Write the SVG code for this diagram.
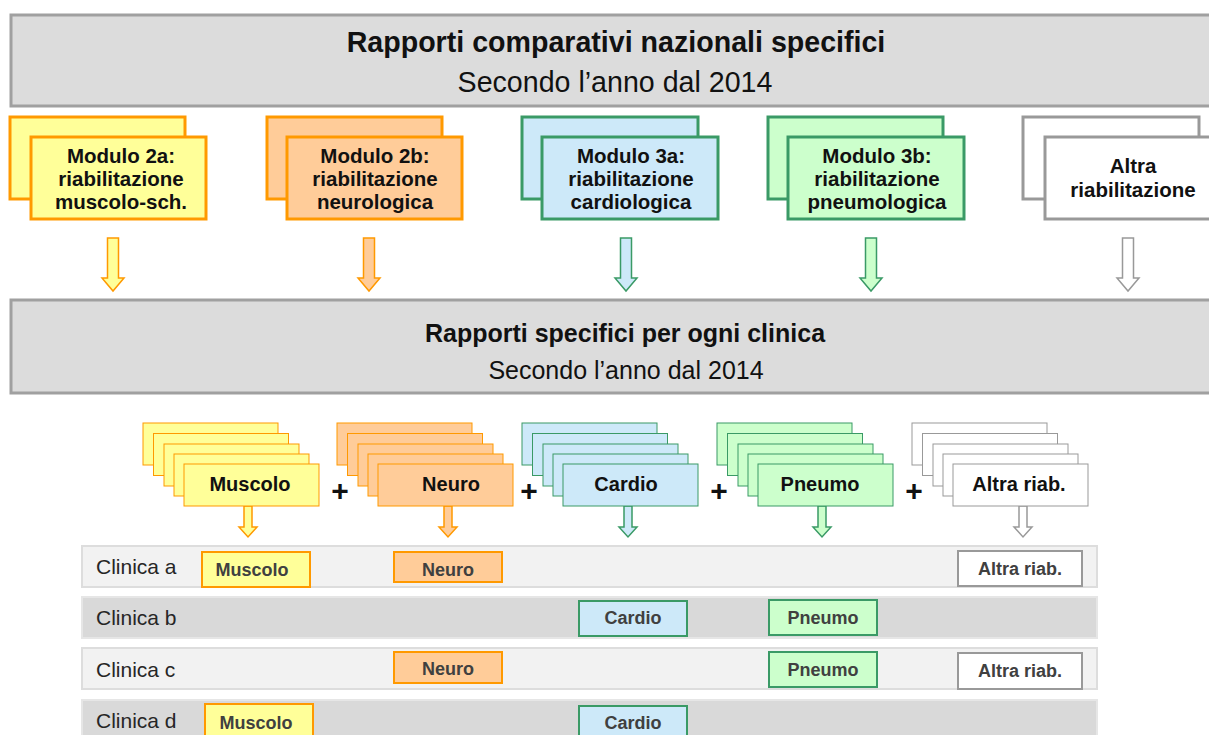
<svg xmlns="http://www.w3.org/2000/svg" width="1209" height="735" viewBox="0 0 1209 735">
<style>
text{font-family:"Liberation Sans",Arial,sans-serif;text-anchor:middle}
.banner{fill:#dcdcdc;stroke:#a0a0a0;stroke-width:3}
.bt{font-weight:bold;font-size:28.6px;fill:#111}
.bs{font-size:28.6px;fill:#111}
.bt2{font-weight:bold;font-size:25px;fill:#111}
.bs2{font-size:25px;fill:#111}
.mt{font-weight:bold;font-size:20.5px;fill:#111}
.ct{font-weight:bold;font-size:20px;fill:#111}
.yel{fill:#ffff99;stroke:#ff9900}
.pea{fill:#ffcc99;stroke:#ff9900}
.blu{fill:#cde9f9;stroke:#3a9a66}
.grn{fill:#ccffcc;stroke:#3a9a66}
.wht{fill:#ffffff;stroke:#999999}
.mod rect{stroke-width:3}
.stk rect{stroke-width:1.5}
.arr path,.arr use{stroke-width:1.5}
.plus{font-weight:bold;font-size:30px;fill:#111}
.rowL{fill:#f2f2f2;stroke:#dddddd;stroke-width:1.5}
.rowD{fill:#d9d9d9;stroke:#e6e6e6;stroke-width:1.5}
.rl{font-size:21px;fill:#262626;text-anchor:start}
.sb rect{stroke-width:2}
.st{font-weight:bold;font-size:18px;fill:#404040}
</style>
<defs>
<path id="bigArrow" d="M-5.5 238H5.5V278H11L0 291L-11 278H-5.5Z"/>
<path id="smArrow" d="M-4 506H4V527H9L0 537L-9 527H-4Z"/>
<rect id="card" width="135" height="42"/>
</defs>

<g id="banner1">
<rect class="banner" x="11" y="15" width="1215" height="91"/>
<text class="bt" x="616" y="52">Rapporti comparativi nazionali specifici</text>
<text class="bs" x="615" y="92">Secondo l’anno dal 2014</text>
</g>

<g id="mod2a" class="mod">
<rect class="yel" x="10" y="117" width="175" height="82"/>
<rect class="yel" x="31" y="137" width="175" height="82"/>
<text class="mt" x="121" y="163">Modulo 2a:</text>
<text class="mt" x="121" y="186">riabilitazione</text>
<text class="mt" x="121" y="209">muscolo-sch.</text>
</g>
<g id="mod2b" class="mod">
<rect class="pea" x="267" y="117" width="175" height="82"/>
<rect class="pea" x="287" y="137" width="175" height="82"/>
<text class="mt" x="375" y="163">Modulo 2b:</text>
<text class="mt" x="375" y="186">riabilitazione</text>
<text class="mt" x="375" y="209">neurologica</text>
</g>
<g id="mod3a" class="mod">
<rect class="blu" x="522" y="117" width="176" height="82"/>
<rect class="blu" x="542" y="137" width="176" height="82"/>
<text class="mt" x="631" y="163">Modulo 3a:</text>
<text class="mt" x="631" y="186">riabilitazione</text>
<text class="mt" x="631" y="209">cardiologica</text>
</g>
<g id="mod3b" class="mod">
<rect class="grn" x="768" y="117" width="175" height="82"/>
<rect class="grn" x="788" y="137" width="176" height="82"/>
<text class="mt" x="877" y="163">Modulo 3b:</text>
<text class="mt" x="877" y="186">riabilitazione</text>
<text class="mt" x="877" y="209">pneumologica</text>
</g>
<g id="modAltra" class="mod">
<rect class="wht" x="1023" y="117" width="176" height="82"/>
<rect class="wht" x="1045" y="137" width="176" height="82"/>
<text class="mt" x="1133" y="173">Altra</text>
<text class="mt" x="1133" y="197">riabilitazione</text>
</g>

<g id="connectors" class="arr">
<use href="#bigArrow" class="yel" x="113"/>
<use href="#bigArrow" class="pea" x="369"/>
<use href="#bigArrow" class="blu" x="626"/>
<use href="#bigArrow" class="grn" x="871"/>
<use href="#bigArrow" class="wht" x="1128"/>
<use href="#smArrow" class="yel" x="248"/>
<use href="#smArrow" class="pea" x="448"/>
<use href="#smArrow" class="blu" x="628"/>
<use href="#smArrow" class="grn" x="822"/>
<use href="#smArrow" class="wht" x="1023"/>
</g>

<g id="banner2">
<rect class="banner" x="11" y="300" width="1215" height="93"/>
<text class="bt2" x="625" y="342">Rapporti specifici per ogni clinica</text>
<text class="bs2" x="626" y="379">Secondo l’anno dal 2014</text>
</g>

<g id="stackMuscolo" class="stk">
<use href="#card" class="yel" x="143" y="423"/>
<use href="#card" class="yel" x="153.5" y="433.5"/>
<use href="#card" class="yel" x="164" y="444"/>
<use href="#card" class="yel" x="174" y="454"/>
<use href="#card" class="yel" x="184" y="464"/>
<text class="ct" x="250" y="491">Muscolo</text>
</g>
<text class="plus" x="340" y="501">+</text>
<g id="stackNeuro" class="stk">
<use href="#card" class="pea" x="337" y="423"/>
<use href="#card" class="pea" x="347.5" y="433.5"/>
<use href="#card" class="pea" x="358" y="444"/>
<use href="#card" class="pea" x="368" y="454"/>
<use href="#card" class="pea" x="378" y="464"/>
<text class="ct" x="451" y="491">Neuro</text>
</g>
<text class="plus" x="529" y="501">+</text>
<g id="stackCardio" class="stk">
<use href="#card" class="blu" x="522" y="423"/>
<use href="#card" class="blu" x="532.5" y="433.5"/>
<use href="#card" class="blu" x="543" y="444"/>
<use href="#card" class="blu" x="553" y="454"/>
<use href="#card" class="blu" x="563" y="464"/>
<text class="ct" x="626" y="491">Cardio</text>
</g>
<text class="plus" x="719" y="501">+</text>
<g id="stackPneumo" class="stk">
<use href="#card" class="grn" x="717" y="423"/>
<use href="#card" class="grn" x="727.5" y="433.5"/>
<use href="#card" class="grn" x="738" y="444"/>
<use href="#card" class="grn" x="748" y="454"/>
<use href="#card" class="grn" x="758" y="464"/>
<text class="ct" x="820" y="491">Pneumo</text>
</g>
<text class="plus" x="914" y="501">+</text>
<g id="stackAltra" class="stk">
<use href="#card" class="wht" x="912" y="423"/>
<use href="#card" class="wht" x="922.5" y="433.5"/>
<use href="#card" class="wht" x="933" y="444"/>
<use href="#card" class="wht" x="943" y="454"/>
<use href="#card" class="wht" x="953" y="464"/>
<text class="ct" x="1019" y="491">Altra riab.</text>
</g>

<g id="clinicaA" class="sb">
<rect class="rowL" x="82" y="546" width="1015" height="41"/>
<text class="rl" x="96" y="574">Clinica a</text>
<rect class="yel" x="202" y="552" width="108" height="35"/>
<text class="st" x="252" y="576">Muscolo</text>
<rect class="pea" x="394" y="552" width="108" height="30"/>
<text class="st" x="448" y="576">Neuro</text>
<rect class="wht" x="958" y="551" width="124" height="35"/>
<text class="st" x="1020" y="575">Altra riab.</text>
</g>
<g id="clinicaB" class="sb">
<rect class="rowD" x="82" y="597" width="1015" height="41"/>
<text class="rl" x="96" y="625">Clinica b</text>
<rect class="blu" x="579" y="601" width="108" height="35"/>
<text class="st" x="633" y="624">Cardio</text>
<rect class="grn" x="769" y="600" width="108" height="35"/>
<text class="st" x="823" y="624">Pneumo</text>
</g>
<g id="clinicaC" class="sb">
<rect class="rowL" x="82" y="648" width="1015" height="41"/>
<text class="rl" x="96" y="677">Clinica c</text>
<rect class="pea" x="394" y="652" width="108" height="31"/>
<text class="st" x="448" y="675">Neuro</text>
<rect class="grn" x="769" y="652" width="108" height="35"/>
<text class="st" x="823" y="676">Pneumo</text>
<rect class="wht" x="958" y="653" width="124" height="36"/>
<text class="st" x="1020" y="677">Altra riab.</text>
</g>
<g id="clinicaD" class="sb">
<rect class="rowD" x="82" y="700" width="1015" height="45"/>
<text class="rl" x="96" y="728">Clinica d</text>
<rect class="yel" x="205" y="704" width="108" height="40"/>
<text class="st" x="256" y="729">Muscolo</text>
<rect class="blu" x="579" y="706" width="108" height="40"/>
<text class="st" x="633" y="729">Cardio</text>
</g>
</svg>
